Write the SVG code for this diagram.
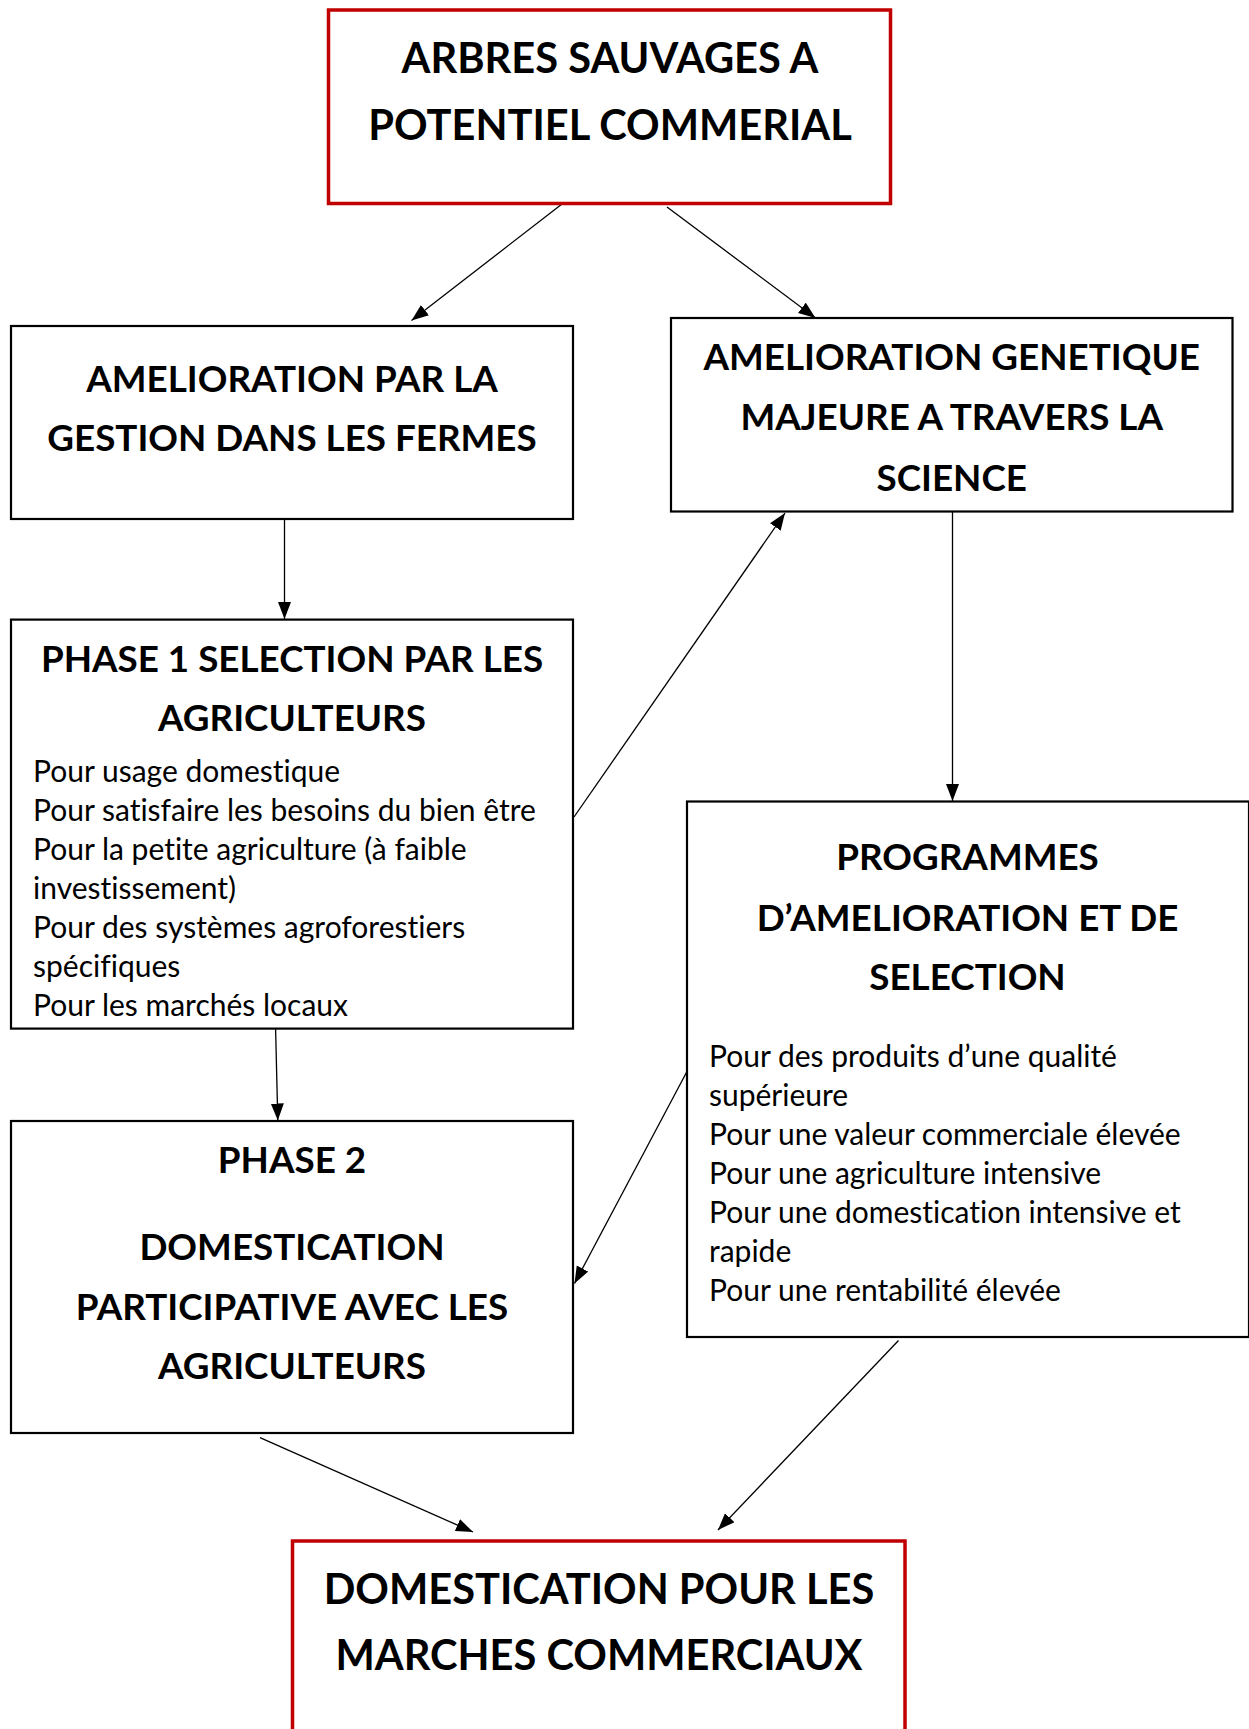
<svg xmlns="http://www.w3.org/2000/svg" width="1249" height="1729" viewBox="0 0 1249 1729">
<style>
.box{fill:#fff;stroke:#000;stroke-width:2.2}
.red{fill:#fff;stroke:#c00000;stroke-width:3.5}
.h{font-family:Lato,"Noto Sans",sans-serif;font-weight:bold;font-size:36.8px;fill:#000;text-anchor:middle}
.big{font-size:41.6px}
.t{font-family:Lato,"Noto Sans",sans-serif;font-size:30px;fill:#000;font-variant-ligatures:none}
.c{stroke:#000;stroke-width:1.3;fill:none;marker-end:url(#ah)}
</style>
<defs>
<marker id="ah" markerUnits="userSpaceOnUse" markerWidth="18" markerHeight="14" refX="17" refY="6.5" orient="auto">
<path d="M0,0 L17,6.5 L0,13 z" fill="#000"/>
</marker>
</defs>
<rect width="1249" height="1729" fill="#fff"/>
<g id="connectors">
<line class="c" x1="562" y1="204" x2="411.5" y2="320.5"/>
<line class="c" x1="667" y1="207" x2="815.5" y2="318"/>
<line class="c" x1="284.5" y1="519" x2="284.5" y2="619"/>
<line class="c" x1="574" y1="817" x2="785" y2="513"/>
<line class="c" x1="952.5" y1="511.5" x2="952.5" y2="801"/>
<line class="c" x1="275.6" y1="1029" x2="277.8" y2="1120.5"/>
<line class="c" x1="692" y1="1062" x2="574.5" y2="1283.5"/>
<line class="c" x1="260" y1="1437.6" x2="473" y2="1532"/>
<line class="c" x1="898.5" y1="1340.5" x2="718" y2="1530"/>
</g>
<g id="n_top">
<rect class="red" x="328.5" y="10" width="562" height="193.5"/>
<text class="h big" x="610" y="73">ARBRES SAUVAGES A</text>
<text class="h big" x="610" y="140">POTENTIEL COMMERIAL</text>
</g>
<g id="n_gestion">
<rect class="box" x="11" y="326" width="562" height="193"/>
<text class="h" x="292" y="391.5">AMELIORATION PAR LA</text>
<text class="h" x="292" y="451">GESTION DANS LES FERMES</text>
</g>
<g id="n_genetique">
<rect class="box" x="671" y="318" width="561.5" height="193.5"/>
<text class="h" x="951.7" y="369.5">AMELIORATION GENETIQUE</text>
<text class="h" x="951.7" y="430">MAJEURE A TRAVERS LA</text>
<text class="h" x="951.7" y="490.5">SCIENCE</text>
</g>
<g id="n_phase1">
<rect class="box" x="11" y="619.6" width="562" height="409"/>
<text class="h" x="292" y="671.5">PHASE 1 SELECTION PAR LES</text>
<text class="h" x="292" y="731">AGRICULTEURS</text>
<text class="t" x="33" y="781.6">Pour usage domestique</text>
<text class="t" x="33" y="820.7">Pour satisfaire les besoins du bien être</text>
<text class="t" x="33" y="859.8">Pour la petite agriculture (à faible</text>
<text class="t" x="33" y="898.9">investissement)</text>
<text class="t" x="33" y="938">Pour des systèmes agroforestiers</text>
<text class="t" x="33" y="977.1">spécifiques</text>
<text class="t" x="33" y="1016.2">Pour les marchés locaux</text>
</g>
<g id="n_programmes">
<rect class="box" x="687" y="801.5" width="562" height="535.5"/>
<text class="h" x="967.5" y="870">PROGRAMMES</text>
<text class="h" x="967.5" y="930.5">D’AMELIORATION ET DE</text>
<text class="h" x="967.5" y="990">SELECTION</text>
<text class="t" x="709" y="1066.6">Pour des produits d’une qualité</text>
<text class="t" x="709" y="1105.7">supérieure</text>
<text class="t" x="709" y="1144.8">Pour une valeur commerciale élevée</text>
<text class="t" x="709" y="1183.9">Pour une agriculture intensive</text>
<text class="t" x="709" y="1223">Pour une domestication intensive et</text>
<text class="t" x="709" y="1262.1">rapide</text>
<text class="t" x="709" y="1301.2">Pour une rentabilité élevée</text>
</g>
<g id="n_phase2">
<rect class="box" x="11" y="1121" width="562" height="312"/>
<text class="h" x="292" y="1173">PHASE 2</text>
<text class="h" x="292" y="1260">DOMESTICATION</text>
<text class="h" x="292" y="1319.5">PARTICIPATIVE AVEC LES</text>
<text class="h" x="292" y="1379">AGRICULTEURS</text>
</g>
<g id="n_marches">
<rect class="red" x="292.5" y="1541" width="612.5" height="230"/>
<text class="h big" x="599" y="1604">DOMESTICATION POUR LES</text>
<text class="h big" x="599" y="1670">MARCHES COMMERCIAUX</text>
</g>
</svg>
